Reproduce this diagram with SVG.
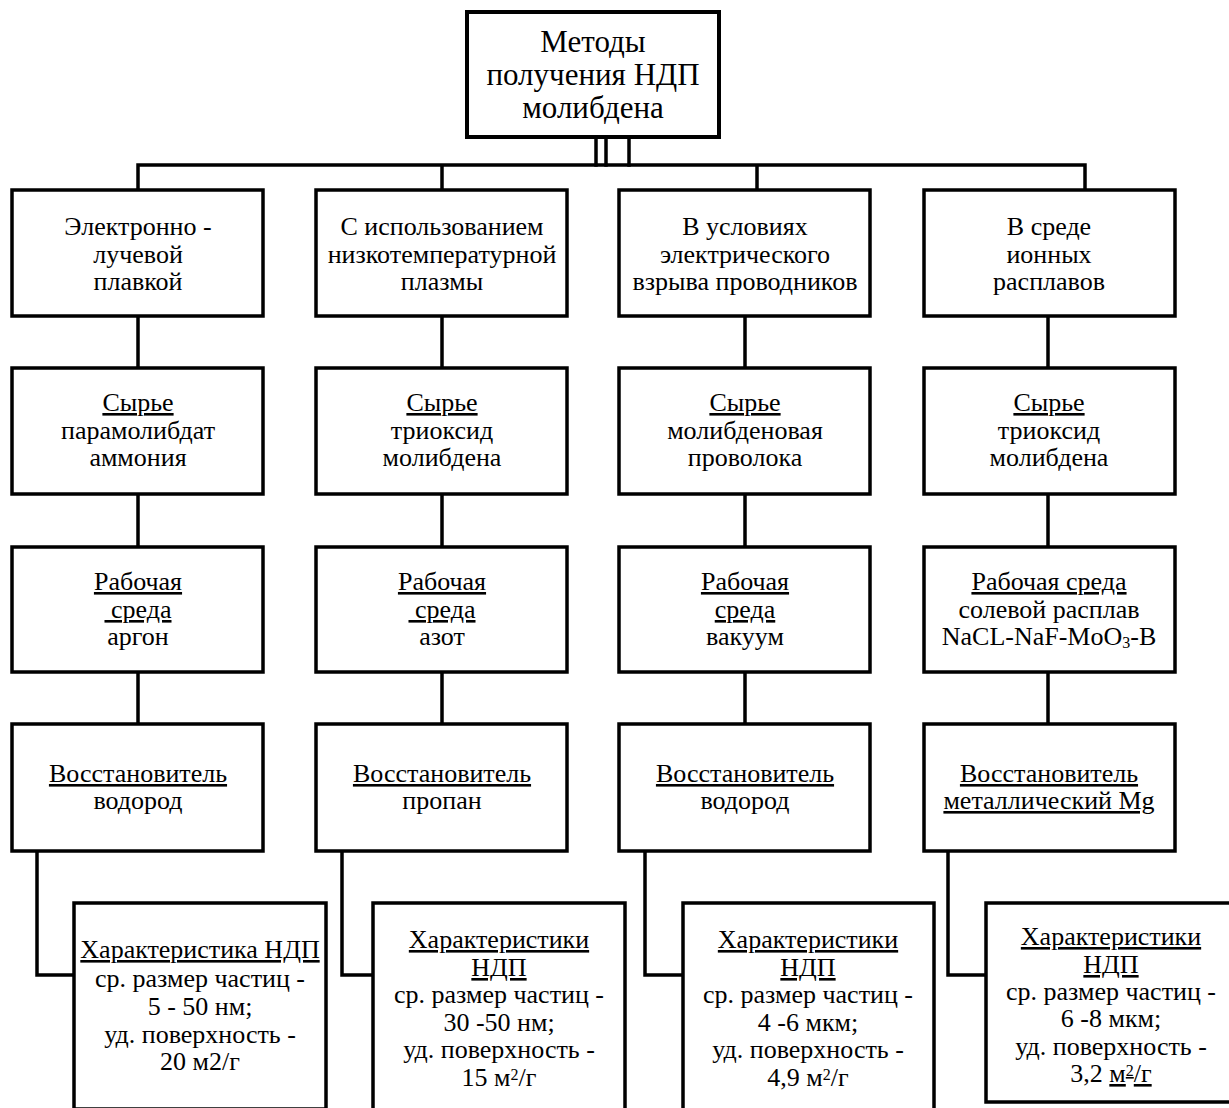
<svg xmlns="http://www.w3.org/2000/svg" width="1229" height="1108" viewBox="0 0 1229 1108">
  <style>
    .box { fill: #fff; stroke: #000; stroke-width: 3.5; }
    .wire { fill: none; stroke: #000; stroke-width: 3.5; stroke-linecap: square; }
    .t { font-family: 'Liberation Serif', Tinos, 'DejaVu Serif', 'Times New Roman', serif; font-size: 26px; text-anchor: middle; fill: #000; }
    .big { font-size: 31px; }
    .u { text-decoration: underline; }
    .sup { font-size: 16px; baseline-shift: 40%; }
    .sub { font-size: 16px; baseline-shift: -20%; }
  </style>
  <rect width="1229" height="1108" fill="#fff"/>

  <!-- connectors -->
  <g id="connectors">
    <!-- stem under the root box -->
    <path class="wire" d="M596 137V165M606 137V165M629 137V165"/>
    <!-- bus to the four methods -->
    <path class="wire" d="M138 165H1085M138 165V190M442 165V190M757 165V190M1085 165V190"/>
    <!-- column 1 -->
    <path class="wire" d="M138 316V368M138 494V547M138 672V724M37 851V975H74"/>
    <!-- column 2 -->
    <path class="wire" d="M442 316V368M442 494V547M442 672V724M342 851V975H373"/>
    <!-- column 3 -->
    <path class="wire" d="M745 316V368M745 494V547M745 672V724M645 851V975H683"/>
    <!-- column 4 -->
    <path class="wire" d="M1048 316V368M1048 494V547M1048 672V724M948 851V975H986"/>
  </g>

  <!-- root -->
  <g id="root">
    <rect class="box" x="467" y="12" width="252" height="125" style="stroke-width:4"/>
    <text class="t big" x="593"><tspan x="593" y="52">Методы</tspan><tspan x="593" y="85">получения НДП</tspan><tspan x="593" y="118">молибдена</tspan></text>
  </g>

  <!-- methods -->
  <g id="method-ebeam">
    <rect class="box" x="12" y="190" width="251" height="126"/>
    <text class="t"><tspan x="138" y="235">Электронно -</tspan><tspan x="138" y="263">лучевой</tspan><tspan x="138" y="290">плавкой</tspan></text>
  </g>
  <g id="method-plasma">
    <rect class="box" x="316" y="190" width="251" height="126"/>
    <text class="t"><tspan x="442" y="235">С использованием</tspan><tspan x="442" y="263">низкотемпературной</tspan><tspan x="442" y="290">плазмы</tspan></text>
  </g>
  <g id="method-explosion">
    <rect class="box" x="619" y="190" width="251" height="126"/>
    <text class="t"><tspan x="745" y="235">В условиях</tspan><tspan x="745" y="263">электрического</tspan><tspan x="745" y="290">взрыва проводников</tspan></text>
  </g>
  <g id="method-melts">
    <rect class="box" x="924" y="190" width="251" height="126"/>
    <text class="t"><tspan x="1049" y="235">В среде</tspan><tspan x="1049" y="263">ионных</tspan><tspan x="1049" y="290">расплавов</tspan></text>
  </g>

  <!-- raw material -->
  <g id="raw-1">
    <rect class="box" x="12" y="368" width="251" height="126"/>
    <text class="t"><tspan class="u" x="138" y="411">Сырье</tspan><tspan x="138" y="439">парамолибдат</tspan><tspan x="138" y="466">аммония</tspan></text>
  </g>
  <g id="raw-2">
    <rect class="box" x="316" y="368" width="251" height="126"/>
    <text class="t"><tspan class="u" x="442" y="411">Сырье</tspan><tspan x="442" y="439">триоксид</tspan><tspan x="442" y="466">молибдена</tspan></text>
  </g>
  <g id="raw-3">
    <rect class="box" x="619" y="368" width="251" height="126"/>
    <text class="t"><tspan class="u" x="745" y="411">Сырье</tspan><tspan x="745" y="439">молибденовая</tspan><tspan x="745" y="466">проволока</tspan></text>
  </g>
  <g id="raw-4">
    <rect class="box" x="924" y="368" width="251" height="126"/>
    <text class="t"><tspan class="u" x="1049" y="411">Сырье</tspan><tspan x="1049" y="439">триоксид</tspan><tspan x="1049" y="466">молибдена</tspan></text>
  </g>

  <!-- working medium -->
  <g id="medium-1">
    <rect class="box" x="12" y="547" width="251" height="125"/>
    <text class="t"><tspan class="u" x="138" y="590">Рабочая</tspan><tspan class="u" x="138" y="618"> среда</tspan><tspan x="138" y="645">аргон</tspan></text>
  </g>
  <g id="medium-2">
    <rect class="box" x="316" y="547" width="251" height="125"/>
    <text class="t"><tspan class="u" x="442" y="590">Рабочая</tspan><tspan class="u" x="442" y="618"> среда</tspan><tspan x="442" y="645">азот</tspan></text>
  </g>
  <g id="medium-3">
    <rect class="box" x="619" y="547" width="251" height="125"/>
    <text class="t"><tspan class="u" x="745" y="590">Рабочая</tspan><tspan class="u" x="745" y="618">среда</tspan><tspan x="745" y="645">вакуум</tspan></text>
  </g>
  <g id="medium-4">
    <rect class="box" x="924" y="547" width="251" height="125"/>
    <text class="t"><tspan class="u" x="1049" y="590">Рабочая среда</tspan><tspan x="1049" y="618">солевой расплав</tspan><tspan x="1049" y="645">NaCL-NaF-MoO<tspan class="sub">3</tspan>-B</tspan></text>
  </g>

  <!-- reducing agent -->
  <g id="reducer-1">
    <rect class="box" x="12" y="724" width="251" height="127"/>
    <text class="t"><tspan class="u" x="138" y="782">Восстановитель</tspan><tspan x="138" y="809">водород</tspan></text>
  </g>
  <g id="reducer-2">
    <rect class="box" x="316" y="724" width="251" height="127"/>
    <text class="t"><tspan class="u" x="442" y="782">Восстановитель</tspan><tspan x="442" y="809">пропан</tspan></text>
  </g>
  <g id="reducer-3">
    <rect class="box" x="619" y="724" width="251" height="127"/>
    <text class="t"><tspan class="u" x="745" y="782">Восстановитель</tspan><tspan x="745" y="809">водород</tspan></text>
  </g>
  <g id="reducer-4">
    <rect class="box" x="924" y="724" width="251" height="127"/>
    <text class="t"><tspan class="u" x="1049" y="782">Восстановитель</tspan><tspan class="u" x="1049" y="809">металлический Mg</tspan></text>
  </g>

  <!-- powder characteristics -->
  <g id="result-1">
    <rect class="box" x="74" y="903" width="252" height="206"/>
    <text class="t"><tspan class="u" x="200" y="958">Характеристика НДП</tspan><tspan x="200" y="987">ср. размер частиц -</tspan><tspan x="200" y="1015">5 - 50 нм;</tspan><tspan x="200" y="1043">уд. поверхность -</tspan><tspan x="200" y="1070">20 м2/г</tspan></text>
  </g>
  <g id="result-2">
    <rect class="box" x="373" y="903" width="252" height="215"/>
    <text class="t"><tspan class="u" x="499" y="948">Характеристики</tspan><tspan class="u" x="499" y="976">НДП</tspan><tspan x="499" y="1003">ср. размер частиц -</tspan><tspan x="499" y="1031">30 -50 нм;</tspan><tspan x="499" y="1058">уд. поверхность -</tspan><tspan x="499" y="1086">15 м<tspan class="sup">2</tspan>/г</tspan></text>
  </g>
  <g id="result-3">
    <rect class="box" x="683" y="903" width="251" height="215"/>
    <text class="t"><tspan class="u" x="808" y="948">Характеристики</tspan><tspan class="u" x="808" y="976">НДП</tspan><tspan x="808" y="1003">ср. размер частиц -</tspan><tspan x="808" y="1031">4 -6 мкм;</tspan><tspan x="808" y="1058">уд. поверхность -</tspan><tspan x="808" y="1086">4,9 м<tspan class="sup">2</tspan>/г</tspan></text>
  </g>
  <g id="result-4">
    <rect class="box" x="986" y="903" width="252" height="199"/>
    <text class="t"><tspan class="u" x="1111" y="945">Характеристики</tspan><tspan class="u" x="1111" y="973">НДП</tspan><tspan x="1111" y="1000">ср. размер частиц -</tspan><tspan x="1111" y="1027">6 -8 мкм;</tspan><tspan x="1111" y="1055">уд. поверхность -</tspan><tspan x="1111" y="1082">3,2 <tspan class="u">м<tspan class="sup">2</tspan>/г</tspan></tspan></text>
  </g>
</svg>
